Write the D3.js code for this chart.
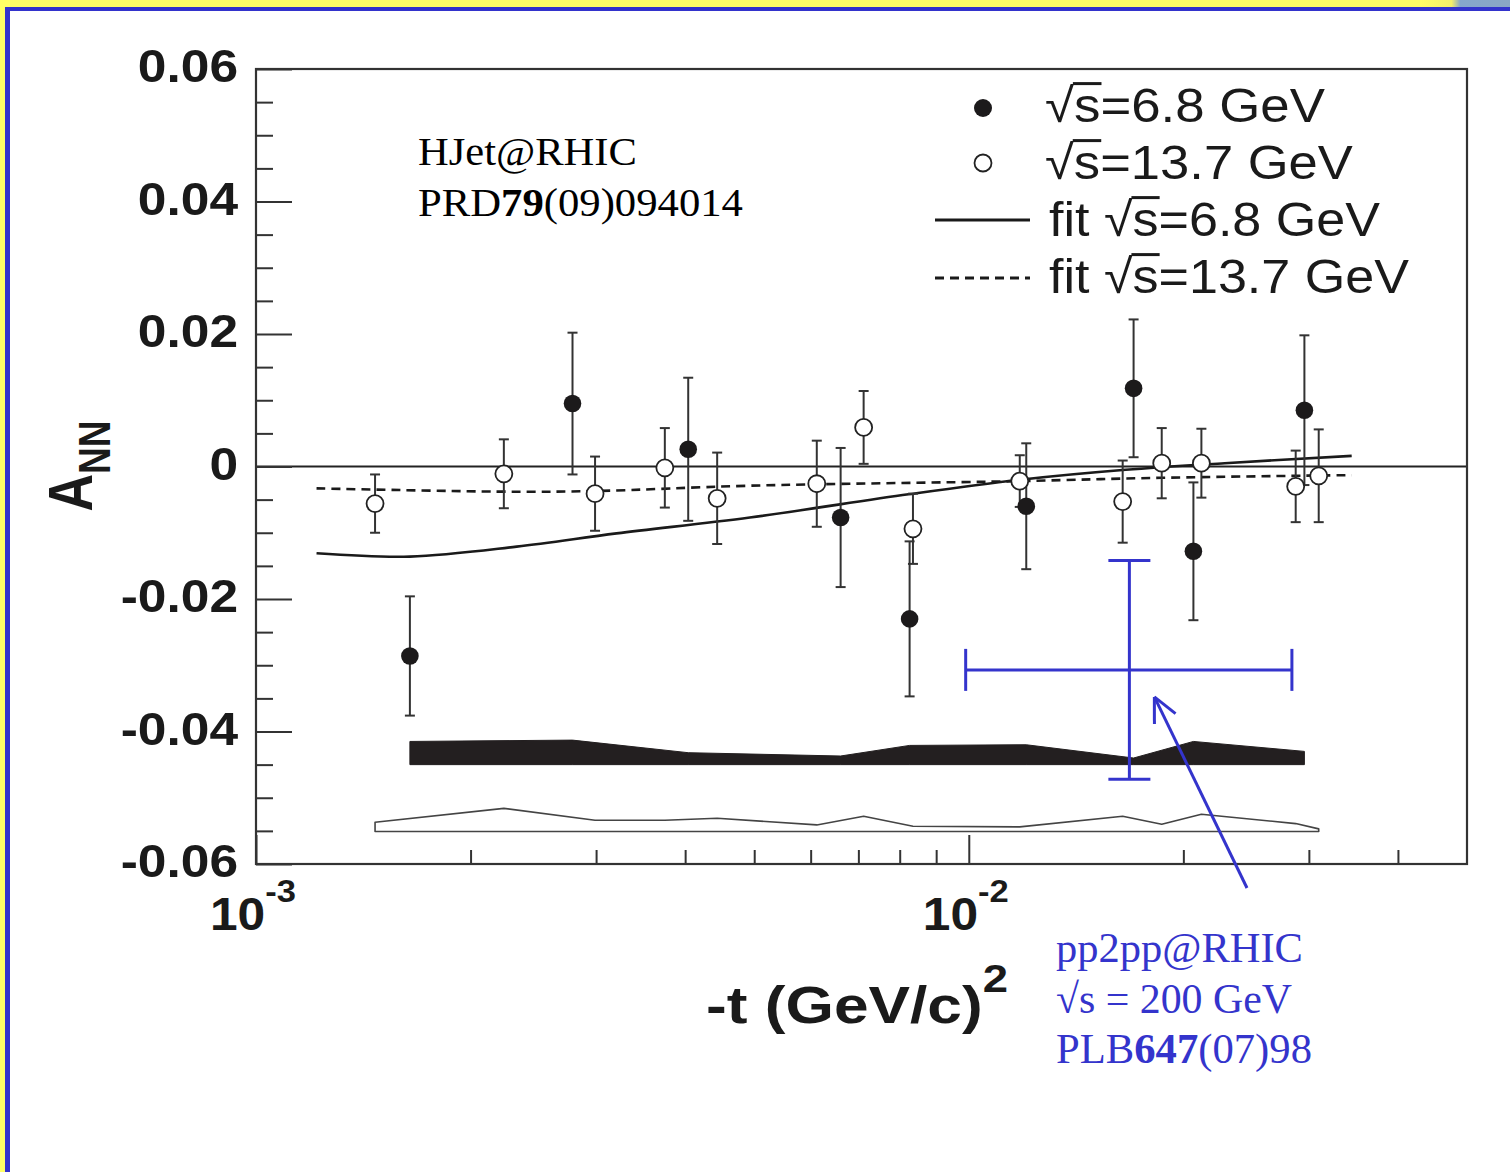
<!DOCTYPE html>
<html>
<head>
<meta charset="utf-8">
<script src="https://cdn.jsdelivr.net/npm/d3@7"></script>
<style>
  html, body { margin: 0; padding: 0; background: #fff; }
  svg { display: block; }
</style>
</head>
<body>
<svg id="chart" width="1510" height="1172"></svg>
<script>
// ---- axis setup ----
const xDomain = [1e-3, 5e-2];
const yDomain = [-0.06, 0.06];
const xTickValues = [1e-3, 1e-2];
const xTickExponents = ["-3", "-2"];
const xMinorValues = [2e-3, 3e-3, 4e-3, 5e-3, 6e-3, 7e-3, 8e-3, 9e-3, 2e-2, 3e-2, 4e-2];
const yTickValues = [-0.06, -0.04, -0.02, 0, 0.02, 0.04, 0.06];
const yTickLabels = ["-0.06", "-0.04", "-0.02", "0", "0.02", "0.04", "0.06"];
const yMinorStep = 0.005;

// ---- HJet, sqrt(s) = 6.8 GeV (filled circles) ----
const t68   = [1.644e-3, 2.78e-3, 4.04e-3, 6.61e-3, 8.26e-3, 12.04e-3, 17.03e-3, 20.66e-3, 29.57e-3];
const ann68 = [-0.0286, 0.0095, 0.0026, -0.0077, -0.0230, -0.0060, 0.0118, -0.0128, 0.0085];
const err68 = [0.0090, 0.0107, 0.0108, 0.0105, 0.0117, 0.0095, 0.0104, 0.0104, 0.0113];
const sys68Top  = [-0.0415, -0.0413, -0.0432, -0.0437, -0.0421, -0.0420, -0.0440, -0.0415, -0.0430];
const sys68Base = -0.0450;

// ---- HJet, sqrt(s) = 13.7 GeV (open circles) ----
const t137   = [1.469e-3, 2.227e-3, 2.99e-3, 3.746e-3, 4.436e-3, 6.12e-3, 7.12e-3, 8.35e-3, 11.79e-3, 16.44e-3, 18.65e-3, 21.2e-3, 28.75e-3, 30.97e-3];
const ann137 = [-0.0056, -0.0011, -0.0041, -0.0002, -0.0048, -0.0026, 0.0059, -0.0094, -0.0022, -0.0053, 0.0005, 0.0005, -0.0030, -0.0014];
const err137 = [0.0044, 0.0052, 0.0056, 0.0060, 0.0069, 0.0065, 0.0055, 0.0053, 0.0039, 0.0062, 0.0053, 0.0052, 0.0054, 0.0070];
const sys137Top  = [-0.0537, -0.0516, -0.0534, -0.0534, -0.0531, -0.0541, -0.0528, -0.0543, -0.0544, -0.0528, -0.0540, -0.0525, -0.0539, -0.0547];
const sys137Base = -0.0551;

// ---- fit curves ----
const fit68T = [1.216e-3, 1.644e-3, 2.321e-3, 3.205e-3, 4.93e-3, 8.23e-3, 11.81e-3, 16.6e-3, 22.86e-3, 34.45e-3];
const fit68A = [-0.0131, -0.0136, -0.0121, -0.0101, -0.0077, -0.0042, -0.0020, -0.0005, 0.0005, 0.0016];
const fit137T = [1.216e-3, 2.25e-3, 3.0e-3, 4.93e-3, 11.8e-3, 18.65e-3, 34.45e-3];
const fit137A = [-0.0033, -0.0038, -0.0037, -0.0029, -0.0022, -0.0017, -0.0013];

// ---- pp2pp point (sqrt(s) = 200 GeV) ----
const ppT = 0.0168, ppTLow = 0.0099, ppTHigh = 0.0284;
const ppA = -0.0307, ppAErr = 0.0165;

// ---- legend / annotation texts ----
const legendLabels = ["√s=6.8 GeV", "√s=13.7 GeV", "fit √s=6.8 GeV", "fit √s=13.7 GeV"];
const hjetLines = [["HJet@RHIC"], ["PRD", "79", "(09)094014"]];
const pp2ppLines = [["pp2pp@RHIC"], ["√s = 200 GeV"], ["PLB", "647", "(07)98"]];

// ================= drawing =================
const W = 1510, H = 1172;
const SANS = "'Liberation Sans', Arial, Helvetica, sans-serif";
const SERIF = "'Liberation Serif', 'Times New Roman', serif";
const BLUE = "#3434cc";
const INK = "#222";

const svg = d3.select("#chart");
const plot = { left: 256, right: 1467, top: 69, bottom: 864 };

const x = d3.scaleLog().domain(xDomain).range([plot.left, plot.right]);
const y = d3.scaleLinear().domain(yDomain).range([plot.bottom, plot.top]);

// scale a text group horizontally so that it spans width w, anchored at (x0, y0)
function fitText(g, x0, y0, w, align) {
  const bb = g.node().getBBox();
  const sx = w / bb.width;
  let tx;
  if (align === "start") tx = x0 - bb.x * sx;
  else if (align === "end") tx = x0 - (bb.x + bb.width) * sx;
  else tx = x0 - (bb.x + bb.width / 2) * sx;
  g.attr("transform", `translate(${tx},${y0}) scale(${sx},1)`);
}

// page background and slide frame
svg.append("rect").attr("width", W).attr("height", H).attr("fill", "#fff");
const grad = svg.append("defs").append("linearGradient").attr("id", "topfade")
  .attr("x1", 0).attr("x2", 1).attr("y1", 0).attr("y2", 0);
grad.append("stop").attr("offset", "0%").attr("stop-color", "#ffff66");
grad.append("stop").attr("offset", "35%").attr("stop-color", "#f4f06a");
grad.append("stop").attr("offset", "45%").attr("stop-color", "#86a6cc");
grad.append("stop").attr("offset", "100%").attr("stop-color", "#8aa6c4");
svg.append("rect").attr("x", 0).attr("y", 0).attr("width", W).attr("height", 7).attr("fill", "#ffff66");
svg.append("rect").attr("x", 1420).attr("y", 0).attr("width", 90).attr("height", 7).attr("fill", "url(#topfade)");
svg.append("rect").attr("x", 0).attr("y", 0).attr("width", 5).attr("height", H).attr("fill", "#ffff66");
svg.append("rect").attr("x", 5).attr("y", 7).attr("width", W - 5).attr("height", 4).attr("fill", "#3333cc");
svg.append("rect").attr("x", 5).attr("y", 7).attr("width", 5).attr("height", H - 7).attr("fill", "#3333cc");

// systematic bands
const band68 = d3.area()
  .x(d => x(d.t)).y0(y(sys68Base)).y1(d => y(d.top));
svg.append("path")
  .datum(t68.map((t, i) => ({ t, top: sys68Top[i] })))
  .attr("d", band68).attr("fill", "#231f20").attr("stroke", "#231f20").attr("stroke-width", 1);

const band137 = d3.area()
  .x(d => x(d.t)).y0(y(sys137Base)).y1(d => y(d.top));
svg.append("path")
  .datum(t137.map((t, i) => ({ t, top: sys137Top[i] })))
  .attr("d", band137).attr("fill", "#fff").attr("stroke", "#444").attr("stroke-width", 1.6)
  .attr("stroke-linejoin", "round");

// zero line
svg.append("line")
  .attr("x1", plot.left).attr("x2", plot.right)
  .attr("y1", y(0)).attr("y2", y(0))
  .attr("stroke", INK).attr("stroke-width", 2);

// fit curves
const fitLine = d3.line().x(d => x(d[0])).y(d => y(d[1])).curve(d3.curveCatmullRom.alpha(0.5));
svg.append("path")
  .datum(fit68T.map((t, i) => [t, fit68A[i]]))
  .attr("d", fitLine).attr("fill", "none").attr("stroke", "#1a1a1a").attr("stroke-width", 2.6);
svg.append("path")
  .datum(fit137T.map((t, i) => [t, fit137A[i]]))
  .attr("d", fitLine).attr("fill", "none").attr("stroke", "#1a1a1a").attr("stroke-width", 2.6)
  .attr("stroke-dasharray", "9,6");

// error bars
function errorBars(ts, vals, errs) {
  const g = svg.append("g").attr("stroke", "#333").attr("stroke-width", 2).attr("fill", "none");
  ts.forEach((t, i) => {
    const cx = x(t), y1 = y(vals[i] + errs[i]), y2 = y(vals[i] - errs[i]);
    g.append("line").attr("x1", cx).attr("x2", cx).attr("y1", y1).attr("y2", y2);
    g.append("line").attr("x1", cx - 5).attr("x2", cx + 5).attr("y1", y1).attr("y2", y1);
    g.append("line").attr("x1", cx - 5).attr("x2", cx + 5).attr("y1", y2).attr("y2", y2);
  });
}
errorBars(t137, ann137, err137);
errorBars(t68, ann68, err68);

// markers
svg.append("g").selectAll("circle").data(t137).join("circle")
  .attr("cx", d => x(d)).attr("cy", (d, i) => y(ann137[i])).attr("r", 8.5)
  .attr("fill", "#fff").attr("stroke", "#222").attr("stroke-width", 1.8);
svg.append("g").selectAll("circle").data(t68).join("circle")
  .attr("cx", d => x(d)).attr("cy", (d, i) => y(ann68[i])).attr("r", 8.8)
  .attr("fill", "#1c1a1b");

// axes
const axisStyle = g => {
  g.select(".domain").remove();
  g.selectAll(".tick line").attr("stroke", "#333").attr("stroke-width", 2);
};
svg.append("g").attr("transform", `translate(${plot.left},0)`)
  .call(d3.axisLeft(y)
    .tickValues(d3.range(yDomain[0], yDomain[1] + 1e-9, yMinorStep)
      .filter(v => !yTickValues.some(m => Math.abs(m - v) < 1e-9)))
    .tickFormat("").tickSizeInner(-17).tickSizeOuter(0))
  .call(axisStyle);
const yAxisG = svg.append("g").attr("transform", `translate(${plot.left},0)`)
  .call(d3.axisLeft(y).tickValues(yTickValues)
    .tickFormat((d, i) => yTickLabels[i])
    .tickSizeInner(-36).tickSizeOuter(0).tickPadding(16))
  .call(axisStyle);
yAxisG.selectAll(".tick text")
  .attr("font-family", SANS).attr("font-weight", "bold").attr("font-size", 46)
  .attr("fill", "#1a1a1a").attr("dy", "0.28em").attr("transform", "scale(1.12,1)");

svg.append("g").attr("transform", `translate(0,${plot.bottom})`)
  .call(d3.axisBottom(x).tickValues(xMinorValues).tickFormat("").tickSizeInner(-14).tickSizeOuter(0))
  .call(axisStyle);
svg.append("g").attr("transform", `translate(0,${plot.bottom})`)
  .call(d3.axisBottom(x).tickValues(xTickValues).tickFormat("").tickSizeInner(-29).tickSizeOuter(0))
  .call(axisStyle);

// x tick labels: 10^n
xTickValues.forEach((v, i) => {
  const g = svg.append("g");
  const t = g.append("text").attr("font-family", SANS).attr("font-weight", "bold")
    .attr("fill", "#1a1a1a").attr("text-anchor", "start");
  t.append("tspan").attr("font-size", 46).text("10");
  t.append("tspan").attr("font-size", 32).attr("dy", -28).text(xTickExponents[i]);
  fitText(g, x(v) - 3, 930, 86, "middle");
});

// plot frame
svg.append("rect")
  .attr("x", plot.left).attr("y", plot.top)
  .attr("width", plot.right - plot.left).attr("height", plot.bottom - plot.top)
  .attr("fill", "none").attr("stroke", "#333").attr("stroke-width", 2.2);

// axis titles
{
  const g = svg.append("g");
  const t = g.append("text").attr("font-family", SANS).attr("font-weight", "bold").attr("fill", "#1a1a1a");
  t.append("tspan").attr("font-size", 52).text("-t (GeV/c)");
  t.append("tspan").attr("font-size", 38).attr("dy", -31).text("2");
  fitText(g, 706, 1023, 302, "start");
}
{
  const g = svg.append("g").attr("transform", "translate(92,466) scale(1.2,1) rotate(-90)");
  const t = g.append("text").attr("font-family", SANS).attr("font-weight", "bold")
    .attr("fill", "#1a1a1a").attr("text-anchor", "middle");
  t.append("tspan").attr("font-size", 52).text("A");
  t.append("tspan").attr("font-size", 37).attr("dy", 15).text("NN");
}

// legend
const legendRows = [
  { base: 122, left: 1045, width: 280 },
  { base: 179, left: 1045, width: 308 },
  { base: 236, left: 1049, width: 331 },
  { base: 293, left: 1049, width: 360 }
];
legendLabels.forEach((label, i) => {
  const row = legendRows[i];
  const g = svg.append("g");
  const fs = 48;
  const t = g.append("text").attr("font-family", SANS).attr("font-size", fs).attr("fill", "#1a1a1a").text(label);
  fitText(g, row.left, row.base, row.width, "start");
  // overbar of the radical spanning the "s"
  const k = label.indexOf("√");
  const node = t.node();
  const sx0 = node.getStartPositionOfChar(k + 1).x;
  const sx1 = node.getEndPositionOfChar(k + 1).x;
  g.append("line").attr("x1", sx0 - 1).attr("x2", sx1 + 1)
    .attr("y1", -0.8 * fs).attr("y2", -0.8 * fs)
    .attr("stroke", "#1a1a1a").attr("stroke-width", 3);
});
svg.append("circle").attr("cx", 983).attr("cy", 108).attr("r", 9).attr("fill", "#1c1a1b");
svg.append("circle").attr("cx", 983).attr("cy", 163).attr("r", 8.5).attr("fill", "#fff")
  .attr("stroke", "#222").attr("stroke-width", 1.8);
svg.append("line").attr("x1", 935).attr("x2", 1030).attr("y1", 220).attr("y2", 220)
  .attr("stroke", "#1a1a1a").attr("stroke-width", 3);
svg.append("line").attr("x1", 935).attr("x2", 1030).attr("y1", 278).attr("y2", 278)
  .attr("stroke", "#1a1a1a").attr("stroke-width", 3).attr("stroke-dasharray", "9,6");

// multi-run text lines (odd runs bold)
function richLine(parts, left, base, width, color, fs) {
  const g = svg.append("g");
  const t = g.append("text").attr("font-family", SERIF).attr("font-size", fs).attr("fill", color);
  parts.forEach((p, j) => t.append("tspan").attr("font-weight", j % 2 ? "bold" : "normal").text(p));
  fitText(g, left, base, width, "start");
}
richLine(hjetLines[0], 418, 165, 219, "#000", 40);
richLine(hjetLines[1], 418, 216, 325, "#000", 40);

// pp2pp point with its ranges
{
  const g = svg.append("g").attr("stroke", BLUE).attr("stroke-width", 3).attr("fill", "none");
  const cx = x(ppT), cy = y(ppA);
  const yt = y(ppA + ppAErr), yb = y(ppA - ppAErr);
  const xl = x(ppTLow), xr = x(ppTHigh);
  g.append("line").attr("x1", cx).attr("x2", cx).attr("y1", yt).attr("y2", yb);
  g.append("line").attr("x1", cx - 21).attr("x2", cx + 21).attr("y1", yt).attr("y2", yt);
  g.append("line").attr("x1", cx - 21).attr("x2", cx + 21).attr("y1", yb).attr("y2", yb);
  g.append("line").attr("x1", xl).attr("x2", xr).attr("y1", cy).attr("y2", cy);
  g.append("line").attr("x1", xl).attr("x2", xl).attr("y1", cy - 21).attr("y2", cy + 21);
  g.append("line").attr("x1", xr).attr("x2", xr).attr("y1", cy - 21).attr("y2", cy + 21);

  // arrow from the label to the point
  const tail = [1247, 888], tip = [cx + 25, cy + 27];
  g.append("line").attr("x1", tail[0]).attr("y1", tail[1]).attr("x2", tip[0]).attr("y2", tip[1]);
  const ang = Math.atan2(tail[1] - tip[1], tail[0] - tip[0]);
  [-0.45, 0.45].forEach(da => {
    g.append("line").attr("x1", tip[0]).attr("y1", tip[1])
      .attr("x2", tip[0] + 27 * Math.cos(ang + da)).attr("y2", tip[1] + 27 * Math.sin(ang + da));
  });
}
richLine(pp2ppLines[0], 1056, 962, 247, BLUE, 42);
richLine(pp2ppLines[1], 1056, 1013, 236, BLUE, 42);
richLine(pp2ppLines[2], 1056, 1063, 256, BLUE, 42);
</script>
</body>
</html>
